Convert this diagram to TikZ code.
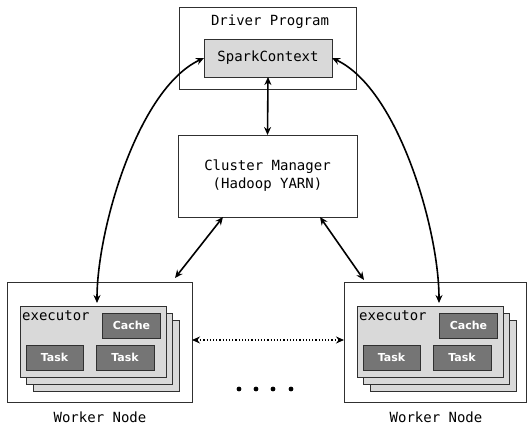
\documentclass[tikz,border=0pt]{standalone}
\usepackage{fontspec}
\setmonofont{DejaVu Sans Mono}
\setsansfont{DejaVu Sans}
\usetikzlibrary{arrows.meta}
\definecolor{lightgr}{HTML}{D9D9D9}
\definecolor{darkgr}{HTML}{757575}
\definecolor{edgegr}{HTML}{303030}
\tikzset{
  box/.style={draw=edgegr, fill=white, line width=0.9pt, inner sep=0pt, outer sep=0pt},
  graybox/.style={box, fill=lightgr},
  taskbox/.style={box, fill=darkgr, draw=edgegr, text=white, font=\sffamily\bfseries\fontsize{11}{13}\selectfont},
  monotext/.style={font=\ttfamily\fontsize{14}{17}\selectfont, inner sep=0pt},
  link/.style={line width=1.6pt, {Stealth[length=8pt,width=7pt]}-{Stealth[length=8pt,width=7pt]}},
}
% one stack of executors: name prefix, x of front box centre
\newcommand{\execstack}[2]{
  \node[graybox, minimum width=146pt, minimum height=71pt] (#1back) at (#2+13.4, 355.5) {};
  \node[graybox, minimum width=146pt, minimum height=71pt] (#1mid) at (#2+6.7, 348.5) {};
  \node[graybox, minimum width=146pt, minimum height=71pt] (#1exec) at (#2, 341.5) {};
  \node[monotext, anchor=west] (#1label) at (#2-71, 316) {executor};
  \node[taskbox, minimum width=58pt, minimum height=25pt] (#1cache) at (#2+38.5, 325.5) {Cache};
  \node[taskbox, minimum width=57pt, minimum height=25pt] (#1taska) at (#2-38.5, 357.5) {Task};
  \node[taskbox, minimum width=58pt, minimum height=25pt] (#1taskb) at (#2+32, 357.5) {Task};
}

\begin{document}
\begin{tikzpicture}[x=1pt,y=-1pt]
\useasboundingbox (0,0) rectangle (527,425);

%boxes
\node[box, minimum width=177pt, minimum height=82pt] (driver) at (267.5,48) {};
\node[monotext] (drvlabel) at (270,22) {Driver Program};
\node[graybox, minimum width=128pt, minimum height=38pt, monotext] (sc) at (268,58) {SparkContext};

\node[box, minimum width=179pt, minimum height=82pt, monotext, align=center] (cm) at (267.5,176)
  {Cluster Manager\\[1pt](Hadoop YARN)};

\node[box, minimum width=185pt, minimum height=120pt] (lw) at (99.5,342) {};
\node[box, minimum width=182pt, minimum height=120pt] (rw) at (435,342) {};
\node[monotext] (lwlabel) at (100,417) {Worker Node};
\node[monotext] (rwlabel) at (436,417) {Worker Node};

\execstack{l}{93}
\execstack{r}{430}

%arrows
\draw[link] (sc.south) -- (cm.north);
\draw[link] ([xshift=45pt]cm.south west) -- ([xshift=-17pt,yshift=4pt]lw.north east);
\draw[link] ([xshift=-37pt]cm.south east) -- ([xshift=20pt,yshift=2pt]rw.north west);
\draw[link] (sc.west) to[out=205, in=90, looseness=0.7] ([xshift=4pt,yshift=3pt]lexec.north);
\draw[link] (sc.east) to[out=-25, in=90, looseness=0.7] ([xshift=9pt,yshift=3pt]rexec.north);
\draw[link, line width=1.2pt, dotted] ([yshift=2pt]lw.east) -- ([yshift=2pt]rw.west);

%dots
\foreach \dx in {239,256,273,291}
  \fill (\dx,389) circle (2.4pt);

\end{tikzpicture}
\end{document}
